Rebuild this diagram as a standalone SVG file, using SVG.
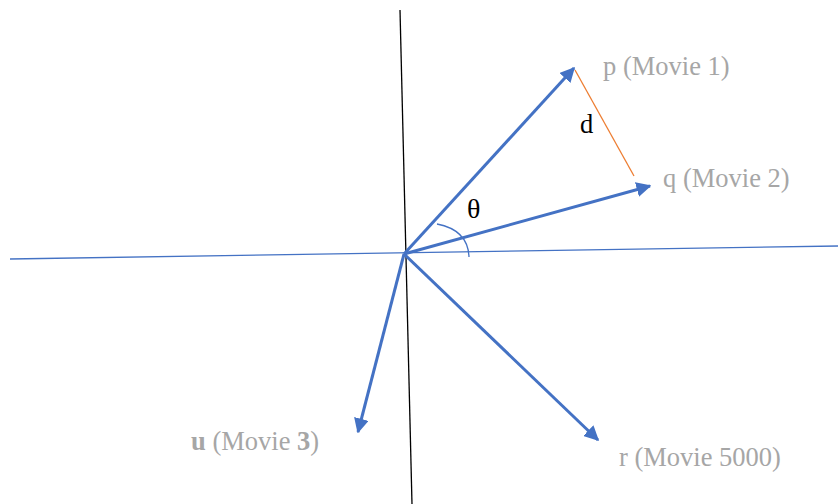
<svg xmlns="http://www.w3.org/2000/svg" width="838" height="504" viewBox="0 0 838 504">
<defs>
<marker id="ah" viewBox="0 0 10 10" refX="9" refY="5" markerWidth="5" markerHeight="5" orient="auto" markerUnits="strokeWidth">
<path d="M0,0 L10,5 L0,10 z" fill="#4472c4"/>
</marker>
<style>
.vec{stroke:#4472c4;stroke-width:3;fill:none;marker-end:url(#ah)}
</style>
</defs>
<rect width="838" height="504" fill="#fff"/>
<g id="axes">
<line x1="400" y1="10" x2="412" y2="504" stroke="#000" stroke-width="1.3"/>
<line x1="10" y1="259" x2="838" y2="246" stroke="#4472c4" stroke-width="1.3"/>
</g>
<g id="connectors">
<line class="vec" x1="404" y1="254" x2="574" y2="68"/>
<line class="vec" x1="404" y1="254" x2="650" y2="186"/>
<line class="vec" x1="404" y1="254" x2="358" y2="432"/>
<line class="vec" x1="404" y1="254" x2="598" y2="440"/>
<line x1="575" y1="70" x2="634" y2="176" stroke="#ed7d31" stroke-width="1.3"/>
<path d="M437,224 Q468,230 469,257" fill="none" stroke="#4472c4" stroke-width="1.3"/>
</g>
<g font-family="Liberation Serif, serif" font-size="26.5" fill="#a6a6a6">
<g id="p"><text x="603" y="75">p (Movie 1)</text></g>
<g id="q"><text x="663" y="187">q (Movie 2)</text></g>
<g id="u"><text x="191" y="450"><tspan font-weight="bold">u</tspan> (Movie <tspan font-weight="bold">3</tspan>)</text></g>
<g id="r"><text x="619" y="466">r (Movie 5000)</text></g>
<g id="d"><text x="580" y="133" fill="#000">d</text></g>
<g id="theta"><text x="467" y="218" fill="#000" font-size="28">θ</text></g>
</g>
</svg>
